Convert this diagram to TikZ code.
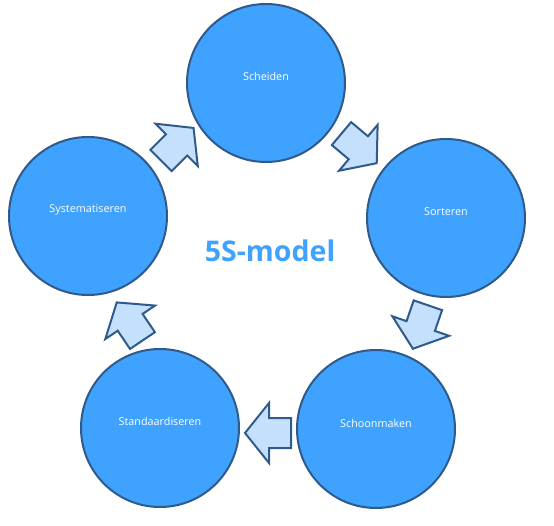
\documentclass[tikz,border=0pt]{standalone}
\usepackage{fontspec}
\setmainfont{Open Sans}
\definecolor{circblue}{RGB}{64,162,255}
\definecolor{edgeblue}{RGB}{46,90,140}
\definecolor{arrowfill}{RGB}{197,224,252}
\begin{document}
\begin{tikzpicture}[x=1pt,y=-1pt,
  stage/.style={circle, draw=edgeblue, fill=circblue, line width=2pt,
    minimum size=158pt, inner sep=0pt},
  stagetext/.style={text=white, font=\fontsize{10.8}{12}\selectfont, inner sep=0pt},
  arrowstyle/.style={draw=edgeblue, fill=arrowfill, line width=2pt, line join=miter},
  cyclearrow/.pic={\draw[arrowstyle] (23,0) -- (-1,30) -- (-1,15) -- (-23,15)
     -- (-23,-15) -- (-1,-15) -- (-1,-30) -- cycle;}]
\useasboundingbox (0,0) rectangle (554,526);
\fill[white] (0,0) rectangle (554,526);

\node[stage] (scheiden) at (266,83) {};
\node[stage] (sorteren) at (446,218) {};
\node[stage] (schoonmaken) at (376,429) {};
\node[stage] (standaard) at (160,428) {};
\node[stage] (systemat) at (88,216) {};

\node[stagetext] (t1) at ([yshift=7pt]scheiden.center) {Scheiden};
\node[stagetext] (t2) at ([yshift=6pt]sorteren.center) {Sorteren};
\node[stagetext] (t3) at ([yshift=6pt]schoonmaken.center) {Schoonmaken};
\node[stagetext] (t4) at ([yshift=7pt]standaard.center) {Standaardiseren};
\node[stagetext] (t5) at ([yshift=6pt]systemat.center) {Systematiseren};

\node[text=circblue, font=\fontsize{28.5}{32}\bfseries, inner sep=0pt] (title) at (270,251) {5S-model};

\pic[rotate=45] (a1) at (177.3,144.2) {cyclearrow};
\pic[rotate=-40] (a2) at (359.1,148.4) {cyclearrow};
\pic[rotate=-109] (a3) at (420.4,327) {cyclearrow};
\pic[rotate=180] (a4) at (268,433) {cyclearrow};
\pic[rotate=124] (a5) at (129.6,321.5) {cyclearrow};
\end{tikzpicture}
\end{document}
